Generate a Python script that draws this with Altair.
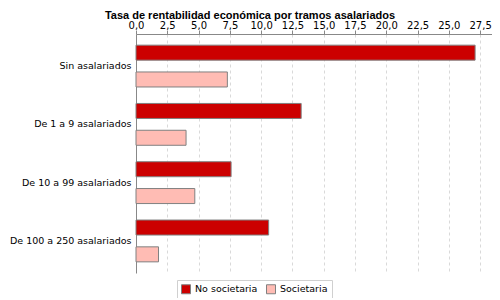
import altair as alt
import pandas as pd

categories = ["Sin asalariados", "De 1 a 9 asalariados", "De 10 a 99 asalariados", "De 100 a 250 asalariados"]
series = ["No societaria", "Societaria"]
no_societaria = [27.1, 13.2, 7.6, 10.6]
societaria = [7.3, 4.0, 4.7, 1.8]
tick_values = [0, 2.5, 5, 7.5, 10, 12.5, 15, 17.5, 20, 22.5, 25, 27.5]
colors = ["#CC0000", "#FFBCB4"]

rows = []
for c, a, b in zip(categories, no_societaria, societaria):
    rows.append({"tramo": c, "tipo": series[0], "valor": a})
    rows.append({"tramo": c, "tipo": series[1], "valor": b})
df = pd.DataFrame(rows)

FONT = "DejaVu Sans"

chart = alt.Chart(df).mark_bar(stroke="#808080", strokeWidth=1).encode(
    x=alt.X("valor:Q",
            scale=alt.Scale(domain=[0, 28.45], nice=False, zero=True),
            axis=alt.Axis(orient="top", values=tick_values, title=None,
                          labelExpr="replace(format(datum.value, '.1f'), '.', ',')",
                          tickSize=4, tickColor="#888888", domainColor="#888888",
                          grid=True, gridDash=[3, 3], gridColor="#d9d9d9",
                          labelFont=FONT, labelFontSize=10, labelColor="#000000",
                          labelPadding=0, labelFlush=False)),
    y=alt.Y("tramo:N", sort=categories,
            scale=alt.Scale(paddingInner=0.08, paddingOuter=0.09),
            axis=alt.Axis(title=None, ticks=False, domainColor="#888888",
                          labelFont=FONT, labelFontSize=9.5, labelColor="#000000",
                          labelPadding=5, grid=False)),
    yOffset=alt.YOffset("tipo:N", sort=series,
                        scale=alt.Scale(paddingInner=0.44, paddingOuter=0.22)),
    color=alt.Color("tipo:N", sort=series,
                    scale=alt.Scale(domain=series, range=colors),
                    legend=alt.Legend(title=None, orient="none", legendX=41, legendY=246,
                                      direction="horizontal", symbolType="square",
                                      symbolSize=81, symbolStrokeColor="#808080",
                                      symbolStrokeWidth=1, strokeColor="#d0d0d0",
                                      padding=4, labelFont=FONT, labelFontSize=9.5,
                                      labelOffset=4, labelColor="#000000", columnPadding=6)),
).properties(
    width=356,
    height=239,
    title=alt.TitleParams("Tasa de rentabilidad económica por tramos asalariados",
                          anchor="middle", dx=-64, dy=7, font="Liberation Sans", fontSize=11,
                          fontWeight="bold", color="#000000", offset=6),
    padding={"left": 128, "top": 26, "right": 0, "bottom": 25},
    autosize=alt.AutoSizeParams(type="none"),
).configure_view(strokeWidth=0)

chart.save("out.html", embed_options={"renderer": "svg", "actions": False})
